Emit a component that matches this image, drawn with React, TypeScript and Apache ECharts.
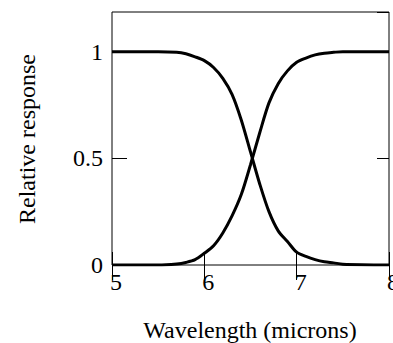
import React, { useEffect, useRef } from "react";
import * as echarts from "echarts";

const wavelengths = [5, 5.5, 5.7, 5.8, 5.9, 6.0, 6.1, 6.2, 6.3, 6.4, 6.5, 6.6, 6.7, 6.8, 6.9, 7.0, 7.1, 7.2, 7.3, 7.4, 7.5, 8];
const fallingResponse = [1, 1, 0.997, 0.99, 0.976, 0.958, 0.926, 0.875, 0.8, 0.68, 0.53, 0.38, 0.25, 0.16, 0.11, 0.06, 0.04, 0.025, 0.015, 0.01, 0.004, 0];
const risingResponse = [0, 0, 0.005, 0.012, 0.025, 0.055, 0.09, 0.15, 0.23, 0.33, 0.47, 0.62, 0.76, 0.85, 0.91, 0.95, 0.97, 0.985, 0.993, 0.997, 1, 1];
const xTitle = "Wavelength (microns)";
const yTitle = "Relative response";

const FONT = '"Liberation Serif", "Times New Roman", serif';

export default function App() {
  const ref = useRef<HTMLDivElement>(null);
  useEffect(() => {
    document.body.style.margin = "0";
    const chart = echarts.init(ref.current!, null, { renderer: "svg" });
    const lineStyle = { color: "#000", width: 3 };
    chart.setOption({
      animation: false,
      grid: {
        left: 112,
        right: 4,
        top: 12,
        bottom: 78,
        show: true,
        borderColor: "#000",
        borderWidth: 1,
        backgroundColor: "transparent",
        containLabel: false,
        outerBoundsMode: "none",
      },
      xAxis: [
        {
          type: "value",
          min: 5,
          max: 8,
          interval: 1,
          position: "bottom",
          axisLine: { show: false },
          axisTick: { show: true, inside: true, length: 13, lineStyle: { color: "#000", width: 1 } },
          axisLabel: {
            color: "#000",
            fontFamily: FONT,
            fontSize: 24,
            margin: 5,
            padding: [0, 0, 0, 8],
            hideOverlap: false,
          },
          splitLine: { show: false },
        },
        {
          type: "value",
          min: 5,
          max: 8,
          interval: 1,
          position: "top",
          axisLine: { show: false },
          axisTick: { show: true, inside: true, length: 15, lineStyle: { color: "#000", width: 1 } },
          axisLabel: { show: false },
          splitLine: { show: false },
        },
      ],
      yAxis: [
        {
          type: "value",
          min: 0,
          max: 1.186,
          interval: 0.5,
          position: "left",
          axisLine: { show: false },
          axisTick: { show: true, inside: true, length: 15, lineStyle: { color: "#000", width: 1 } },
          axisLabel: {
            color: "#000",
            fontFamily: FONT,
            fontSize: 24,
            margin: 9,
            padding: [10, 0, 0, 0],
            showMaxLabel: false,
            formatter: (v: number) => String(v),
          },
          splitLine: { show: false },
        },
        {
          type: "value",
          min: 0,
          max: 1.186,
          interval: 0.5,
          position: "right",
          axisLine: { show: false },
          axisTick: { show: true, inside: true, length: 12, lineStyle: { color: "#000", width: 1 } },
          axisLabel: { show: false },
          splitLine: { show: false },
        },
      ],
      graphic: [
        {
          type: "text",
          x: 250,
          y: 330,
          style: {
            text: xTitle,
            fontFamily: FONT,
            fontSize: 24,
            fill: "#000",
            align: "center",
            verticalAlign: "middle",
          },
        },
        {
          type: "text",
          x: 27,
          y: 139,
          rotation: Math.PI / 2,
          style: {
            text: yTitle,
            fontFamily: FONT,
            fontSize: 24,
            fill: "#000",
            align: "center",
            verticalAlign: "middle",
          },
        },
      ],
      series: [
        {
          type: "line",
          xAxisIndex: 0,
          yAxisIndex: 0,
          showSymbol: false,
          smooth: 0.3,
          lineStyle,
          data: wavelengths.map((x, i) => [x, fallingResponse[i]]),
        },
        {
          type: "line",
          xAxisIndex: 0,
          yAxisIndex: 0,
          showSymbol: false,
          smooth: 0.3,
          lineStyle,
          data: wavelengths.map((x, i) => [x, risingResponse[i]]),
        },
      ],
    });
    return () => chart.dispose();
  }, []);
  return <div ref={ref} style={{ position: "absolute", left: 0, top: 0, width: 393, height: 343 }} />;
}
